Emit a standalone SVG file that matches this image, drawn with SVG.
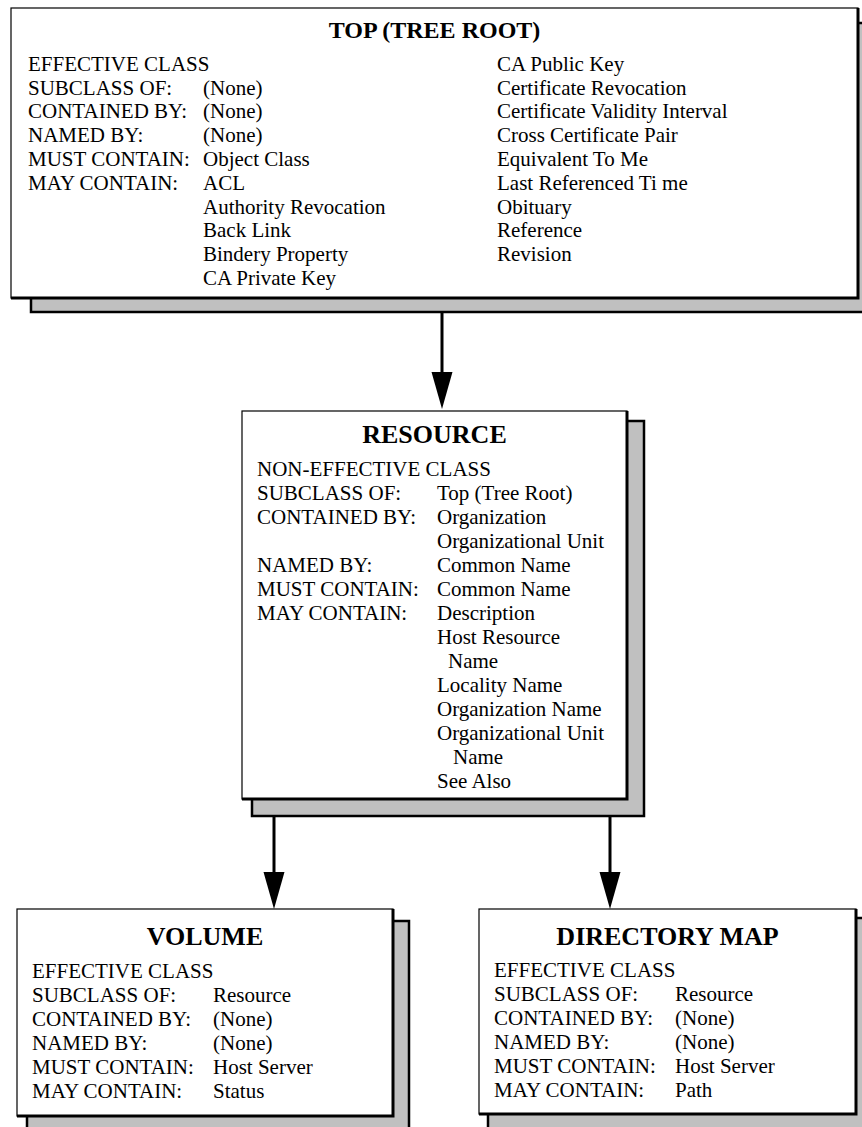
<svg xmlns="http://www.w3.org/2000/svg" width="862" height="1127" viewBox="0 0 862 1127">
<style>
.shadow{fill:#c0c0c0;stroke:#000;stroke-width:2.5}
.front{fill:#fff;stroke:#000;stroke-width:1.2}
.edge{fill:none;stroke:#000;stroke-width:3}
.t{font-family:"Liberation Serif","Times New Roman",serif;font-size:21px;fill:#000}
.h{font-family:"Liberation Serif","Times New Roman",serif;font-size:26px;font-weight:bold;text-anchor:middle;fill:#000}
.conn{stroke:#000;stroke-width:3;fill:none}
</style>
<defs>
<marker id="arr" markerUnits="userSpaceOnUse" markerWidth="37" markerHeight="22" viewBox="0 0 37 22" refX="28" refY="11" orient="auto">
<path d="M0,0.5 L37,11 L0,21.5 z" fill="#000"/>
</marker>
</defs>
<g id="connectors">
<line class="conn" x1="442" y1="312" x2="442" y2="400" marker-end="url(#arr)"/>
<line class="conn" x1="274" y1="816" x2="274" y2="900" marker-end="url(#arr)"/>
<line class="conn" x1="610" y1="813" x2="610" y2="900" marker-end="url(#arr)"/>
</g>
<g id="top">
<rect class="shadow" x="31" y="23" width="850" height="289"/>
<rect class="front" x="11" y="8" width="847" height="290"/>
<path class="edge" d="M11,298 H858 V8"/>
<text class="h" x="434.5" y="38" style="font-size:24px">TOP (TREE ROOT)</text>
<text class="t" x="28" y="71">EFFECTIVE CLASS</text>
<text class="t" x="28" y="95">SUBCLASS OF:</text><text class="t" x="203" y="95">(None)</text>
<text class="t" x="28" y="118">CONTAINED BY:</text><text class="t" x="203" y="118">(None)</text>
<text class="t" x="28" y="142">NAMED BY:</text><text class="t" x="203" y="142">(None)</text>
<text class="t" x="28" y="166">MUST CONTAIN:</text><text class="t" x="203" y="166">Object Class</text>
<text class="t" x="28" y="190">MAY CONTAIN:</text><text class="t" x="203" y="190">ACL</text>
<text class="t" x="203" y="214">Authority Revocation</text>
<text class="t" x="203" y="237">Back Link</text>
<text class="t" x="203" y="261">Bindery Property</text>
<text class="t" x="203" y="285">CA Private Key</text>
<text class="t" x="497" y="71">CA Public Key</text>
<text class="t" x="497" y="95">Certificate Revocation</text>
<text class="t" x="497" y="118">Certificate Validity Interval</text>
<text class="t" x="497" y="142">Cross Certificate Pair</text>
<text class="t" x="497" y="166">Equivalent To Me</text>
<text class="t" x="497" y="190">Last Referenced Ti me</text>
<text class="t" x="497" y="214">Obituary</text>
<text class="t" x="497" y="237">Reference</text>
<text class="t" x="497" y="261">Revision</text>
</g>
<g id="resource">
<rect class="shadow" x="252" y="421" width="392" height="395"/>
<rect class="front" x="242" y="411" width="385" height="388"/>
<path class="edge" d="M242,799 H627 V411"/>
<text class="h" x="434.5" y="443">RESOURCE</text>
<text class="t" x="257" y="476">NON-EFFECTIVE CLASS</text>
<text class="t" x="257" y="500">SUBCLASS OF:</text><text class="t" x="437" y="500">Top (Tree Root)</text>
<text class="t" x="257" y="524">CONTAINED BY:</text><text class="t" x="437" y="524">Organization</text>
<text class="t" x="437" y="548">Organizational Unit</text>
<text class="t" x="257" y="572">NAMED BY:</text><text class="t" x="437" y="572">Common Name</text>
<text class="t" x="257" y="596">MUST CONTAIN:</text><text class="t" x="437" y="596">Common Name</text>
<text class="t" x="257" y="620">MAY CONTAIN:</text><text class="t" x="437" y="620">Description</text>
<text class="t" x="437" y="644">Host Resource</text>
<text class="t" x="448" y="668">Name</text>
<text class="t" x="437" y="692">Locality Name</text>
<text class="t" x="437" y="716">Organization Name</text>
<text class="t" x="437" y="740">Organizational Unit</text>
<text class="t" x="453" y="764">Name</text>
<text class="t" x="437" y="788">See Also</text>
</g>
<g id="volume">
<rect class="shadow" x="27" y="921" width="382" height="215"/>
<rect class="front" x="17" y="909" width="376" height="207"/>
<path class="edge" d="M17,1116 H393 V909"/>
<text class="h" x="205" y="945">VOLUME</text>
<text class="t" x="32" y="978">EFFECTIVE CLASS</text>
<text class="t" x="32" y="1002">SUBCLASS OF:</text><text class="t" x="213" y="1002">Resource</text>
<text class="t" x="32" y="1026">CONTAINED BY:</text><text class="t" x="213" y="1026">(None)</text>
<text class="t" x="32" y="1050">NAMED BY:</text><text class="t" x="213" y="1050">(None)</text>
<text class="t" x="32" y="1074">MUST CONTAIN:</text><text class="t" x="213" y="1074">Host Server</text>
<text class="t" x="32" y="1098">MAY CONTAIN:</text><text class="t" x="213" y="1098">Status</text>
</g>
<g id="directory-map">
<rect class="shadow" x="488" y="918" width="390" height="218"/>
<rect class="front" x="479" y="909" width="377" height="205"/>
<path class="edge" d="M479,1114 H856 V909"/>
<text class="h" x="667.5" y="945">DIRECTORY MAP</text>
<text class="t" x="494" y="977">EFFECTIVE CLASS</text>
<text class="t" x="494" y="1001">SUBCLASS OF:</text><text class="t" x="675" y="1001">Resource</text>
<text class="t" x="494" y="1025">CONTAINED BY:</text><text class="t" x="675" y="1025">(None)</text>
<text class="t" x="494" y="1049">NAMED BY:</text><text class="t" x="675" y="1049">(None)</text>
<text class="t" x="494" y="1073">MUST CONTAIN:</text><text class="t" x="675" y="1073">Host Server</text>
<text class="t" x="494" y="1097">MAY CONTAIN:</text><text class="t" x="675" y="1097">Path</text>
</g>
</svg>
